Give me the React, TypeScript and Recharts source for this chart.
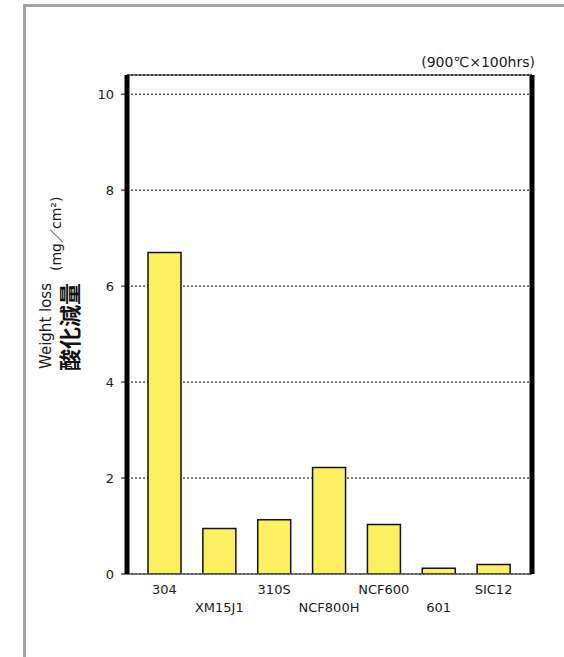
import {
    BarChart,
    Bar,
    XAxis,
    YAxis,
    CartesianGrid,
    ReferenceLine,
    Customized
} from 'recharts';

const alloys = ['304', 'XM15J1', '310S', 'NCF800H', 'NCF600', '601', 'SIC12'];
const weightLoss = [6.7, 0.95, 1.13, 2.22, 1.03, 0.12, 0.2];
const yTicks = [0, 2, 4, 6, 8, 10];

const FONT = '"DejaVu Sans", "Noto Sans CJK JP", sans-serif';

const data = alloys.map((name, i) => ({ name, loss: weightLoss[i] }));

// labels alternate between two rows so the long names don't collide
const StaggerTick = (props: any) => {
    const { x, y, payload, index } = props;
    return (
        <text
            x={x}
            y={y + (index % 2 ? 38 : 20)}
            textAnchor="middle"
            fill="#1a1a1a"
            fontSize={13}
            fontFamily={FONT}
        >
            {payload.value}
        </text>
    );
};

// axis title + test condition note
const Titles = () => (
    <g fontFamily={FONT} fill="#1a1a1a">
        <text x={535} y={67} textAnchor="end" fontSize={14}>(900℃×100hrs)</text>
        <text transform="translate(51, 369) rotate(-90)" fontSize={15}>Weight loss</text>
        <text transform="translate(61, 271) rotate(-90)" fontSize={14}>(mg／cm²)</text>
        <text transform="translate(78, 371) rotate(-90)" fontSize={22} fontWeight="bold" fill="#111">
            酸化減量
        </text>
    </g>
);

export default function App() {
    return (
        <div style={{ position: 'absolute', left: 0, top: 0, width: 564, height: 657, background: '#fff' }}>
            <div
                style={{
                    position: 'absolute',
                    left: 23,
                    top: 4,
                    right: 0,
                    bottom: 0,
                    borderLeft: '3px solid #a3a3a3',
                    borderTop: '3px solid #a3a3a3'
                }}
            />
            <div style={{ position: 'absolute', left: 0, top: 0 }}>
                <BarChart
                    width={564}
                    height={657}
                    data={data}
                    margin={{ top: 75, right: 30, bottom: 43, left: 67 }}
                    barSize={33}
                >
                    <CartesianGrid
                        vertical={false}
                        stroke="#000"
                        strokeDasharray="2 2"
                    />
                    <XAxis
                        dataKey="name"
                        height={40}
                        interval={0}
                        padding={{ left: 10, right: 11 }}
                        tickLine={false}
                        tickSize={0}
                        tickMargin={0}
                        axisLine={{ stroke: '#555', strokeWidth: 1.5 }}
                        tick={<StaggerTick />}
                    />
                    <YAxis
                        width={60}
                        domain={[0, 10.4]}
                        ticks={yTicks}
                        allowDataOverflow
                        tickSize={6}
                        tickMargin={7}
                        tickLine={{ stroke: '#000' }}
                        axisLine={{ stroke: '#000', strokeWidth: 5 }}
                        tick={{ fill: '#1a1a1a', fontSize: 13, fontFamily: FONT }}
                    />
                    <YAxis
                        yAxisId="r"
                        orientation="right"
                        width={2}
                        domain={[0, 10.4]}
                        ticks={yTicks}
                        allowDataOverflow
                        tick={false}
                        tickLine={false}
                        axisLine={{ stroke: '#000', strokeWidth: 5 }}
                    />
                    <ReferenceLine y={10.4} stroke="#000" strokeWidth={1} />
                    <Bar
                        dataKey="loss"
                        fill="#fcef60"
                        stroke="#111"
                        strokeWidth={1.5}
                        isAnimationActive={false}
                    />
                    <Customized component={Titles} />
                </BarChart>
            </div>
        </div>
    );
}
